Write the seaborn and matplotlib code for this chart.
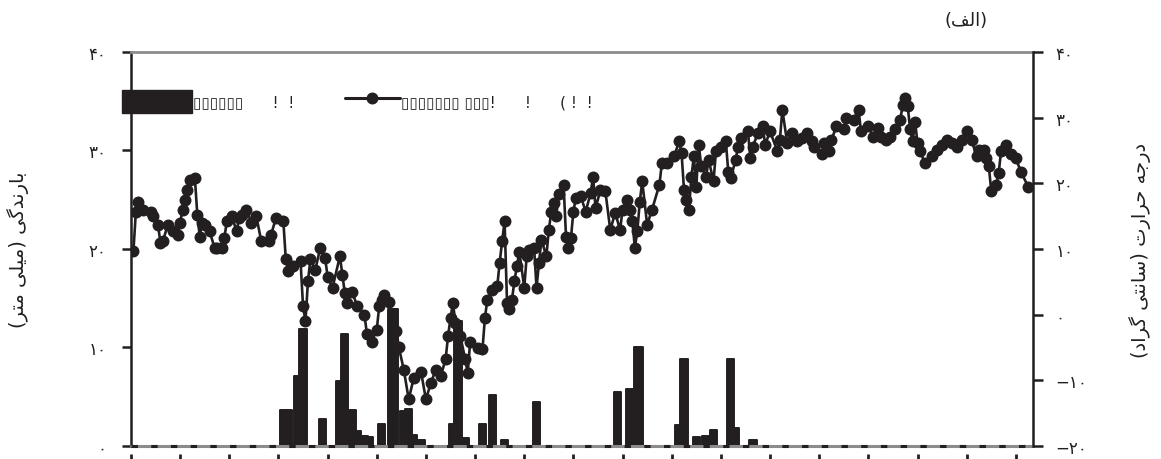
import matplotlib
matplotlib.use("Agg")
import matplotlib.pyplot as plt
import seaborn as sns
import pandas as pd
from matplotlib.patches import Patch, Rectangle
from matplotlib.lines import Line2D
from matplotlib.legend_handler import HandlerPatch

# ---------------- data ----------------
temp_day = [1, 2, 3, 5, 8, 9, 11, 12, 13, 15, 17, 19, 20, 21, 22, 23, 24, 26, 27, 28, 29, 30, 32, 34, 35, 37, 38, 39,
            41, 43, 44, 45, 47, 49, 51, 53, 56, 57, 59, 62, 63, 64, 66, 69, 70, 71, 72, 73, 75, 77, 79, 80, 82, 85,
            86, 87, 88, 90, 92, 95, 96, 98, 100, 101, 102, 103, 105, 108, 109, 111, 113, 115, 118, 120, 122, 124,
            126, 128, 129, 130, 131, 132, 134, 136, 137, 138, 141, 143, 144, 145, 147, 149, 150, 151, 152, 153, 154,
            155, 156, 157, 158, 160, 161, 162, 164, 165, 166, 167, 169, 170, 171, 172, 173, 174, 176, 177, 178, 179,
            180, 181, 183, 185, 187, 188, 189, 191, 193, 195, 197, 199, 200, 202, 203, 204, 205, 206, 207, 208, 210,
            212, 215, 216, 218, 221, 223, 224, 225, 226, 227, 228, 229, 230, 231, 232, 234, 235, 237, 238, 240, 242,
            243, 244, 246, 247, 248, 251, 252, 253, 255, 257, 258, 260, 263, 264, 265, 267, 269, 271, 273, 275, 277,
            278, 281, 282, 284, 285, 287, 290, 291, 294, 296, 297, 300, 302, 304, 305, 307, 309, 311, 313, 314, 315,
            316, 317, 318, 319, 320, 321, 323, 326, 328, 330, 332, 334, 336, 338, 340, 342, 344, 345, 347, 348, 349,
            350, 352, 353, 354, 356, 358, 360, 362, 365]
temp_val = [9.7, 15.7, 17.1, 16.0, 15.7, 15.0, 13.7, 10.9, 11.2, 13.7, 12.7, 12.2, 14.0, 16.0, 17.5, 19.0, 20.5, 20.8,
            15.2, 11.9, 14.0, 13.7, 12.7, 10.2, 10.2, 10.2, 11.7, 14.2, 15.0, 12.7, 14.7, 15.2, 16.0, 14.0, 15.0,
            11.2, 11.2, 12.2, 14.7, 14.2, 8.4, 6.6, 7.4, 8.1, 1.3, -1.0, 5.1, 8.4, 6.8, 10.2, 8.6, 5.8, 4.1, 8.9,
            6.1, 3.3, 1.8, 3.5, 1.3, 0.0, -3.0, -4.1, -2.3, 1.3, 2.3, 3.0, 2.0, -2.5, -5.0, -8.4, -12.9, -9.7, -8.7,
            -12.9, -10.4, -8.4, -9.4, -6.8, -3.3, -0.5, 1.8, -1.3, -3.3, -6.8, -8.9, -4.1, -5.1, -5.3, -0.5, 2.3,
            3.8, 4.3, 7.9, 11.2, 14.2, 1.8, 0.8, 2.3, 5.1, 7.4, 9.6, 4.1, 8.9, 9.9, 10.2, 4.1, 7.9, 11.4, 8.9, 12.9,
            15.7, 17.0, 15.0, 18.3, 19.8, 11.9, 10.2, 11.7, 15.7, 17.8, 18.0, 15.7, 18.5, 21.0, 16.2, 19.0, 18.8,
            12.9, 15.5, 12.9, 16.0, 17.5, 16.0, 14.2, 10.2, 12.7, 17.2, 20.3, 13.7, 16.0, 19.8, 23.1, 23.1, 24.1,
            26.4, 24.6, 19.0, 17.5, 16.0, 21.0, 24.1, 19.5, 25.9, 22.6, 21.0, 23.6, 20.3, 24.9, 25.6, 26.4, 21.8,
            20.8, 23.6, 25.6, 26.9, 27.9, 23.8, 25.6, 27.6, 28.7, 25.9, 27.9, 24.9, 26.6, 31.2, 26.1, 27.6, 26.4,
            26.9, 27.6, 26.4, 25.6, 24.4, 26.1, 24.9, 26.6, 28.7, 28.2, 29.9, 29.7, 31.2, 27.9, 28.7, 27.1, 28.4,
            27.1, 26.6, 27.1, 28.2, 29.7, 32.0, 33.0, 31.7, 28.2, 26.4, 29.4, 26.1, 24.9, 23.1, 24.1, 25.1, 25.9,
            26.6, 26.1, 25.6, 26.6, 27.9, 26.6, 24.1, 25.1, 25.1, 23.8, 22.6, 18.8, 19.8, 21.6, 24.9, 25.9, 24.4,
            23.8, 21.8, 19.5]

rain_day = [62, 64, 68, 70, 78, 85, 87, 90, 92, 95, 97, 102, 106, 107, 111, 113, 115, 118, 131, 133, 136, 143, 147,
            152, 165, 198, 203, 206, 207, 223, 225, 230, 234, 237, 244, 246, 253]
rain_mm = [3.7, 3.7, 7.1, 11.9, 2.7, 6.6, 11.4, 3.7, 1.5, 1.0, 0.9, 2.2, 13.9, 13.9, 3.6, 3.8, 1.1, 0.6, 2.2, 12.7,
           0.8, 2.2, 5.2, 0.6, 4.5, 5.5, 5.8, 10.0, 10.0, 2.1, 8.8, 0.9, 1.0, 1.6, 8.8, 1.8, 0.6]

left_ticks = [0, 10, 20, 30, 40]
left_labels = ["۰", "۱۰", "۲۰", "۳۰", "۴۰"]
right_ticks = [-20, -10, 0, 10, 20, 30, 40]
right_labels = ["−۲۰", "−۱۰", "۰", "۱۰", "۲۰", "۳۰", "۴۰"]
x_ticks = list(range(0, 361, 20))

left_title = "بارندگی (میلی متر)"
right_title = "درجه حرارت (سانتی گراد)"
panel_title = "(الف)"
legend_rain = "▯▯▯▯▯▯      !  !"
legend_temp = "▯▯▯▯▯▯▯ ▯▯▯!      !      ( !  !"

# ---------------- Persian shaping (presentation forms, visual order) ----------------
FORMS = {  # isolated, final, initial, medial
    'ا': ('\uFE8D', '\uFE8E', None, None),
    'ب': ('\uFE8F', '\uFE90', '\uFE91', '\uFE92'),
    'ت': ('\uFE95', '\uFE96', '\uFE97', '\uFE98'),
    'ج': ('\uFE9D', '\uFE9E', '\uFE9F', '\uFEA0'),
    'ح': ('\uFEA1', '\uFEA2', '\uFEA3', '\uFEA4'),
    'د': ('\uFEA9', '\uFEAA', None, None),
    'ر': ('\uFEAD', '\uFEAE', None, None),
    'س': ('\uFEB1', '\uFEB2', '\uFEB3', '\uFEB4'),
    'ف': ('\uFED1', '\uFED2', '\uFED3', '\uFED4'),
    'ل': ('\uFEDD', '\uFEDE', '\uFEDF', '\uFEE0'),
    'م': ('\uFEE1', '\uFEE2', '\uFEE3', '\uFEE4'),
    'ن': ('\uFEE5', '\uFEE6', '\uFEE7', '\uFEE8'),
    'ه': ('\uFEE9', '\uFEEA', '\uFEEB', '\uFEEC'),
    'ی': ('\uFBFC', '\uFBFD', '\uFBFE', '\uFBFF'),
    'گ': ('\uFB92', '\uFB93', '\uFB94', '\uFB95'),
}


def shape(s):
    out = []
    n = len(s)
    for i, c in enumerate(s):
        if c not in FORMS:
            out.append(c)
            continue
        f = FORMS[c]
        prev = s[i - 1] if i > 0 else None
        nxt = s[i + 1] if i < n - 1 else None
        jp = prev in FORMS and FORMS[prev][2] is not None
        jn = f[2] is not None and nxt in FORMS
        if jp and jn:
            g = f[3]
        elif jp:
            g = f[1]
        elif jn:
            g = f[2]
        else:
            g = f[0]
        out.append(g)
    vis = ''.join(reversed(out))
    return vis.translate(str.maketrans('()', ')('))


# ---------------- plotting ----------------
sns.set_style("white")
plt.rcParams['font.family'] = ['DejaVu Sans']
plt.rcParams['lines.scale_dashes'] = False

INK = '#231f20'
GRAY = '#8c8c8c'

fig = plt.figure(figsize=(11.61, 4.6), dpi=100)
ax = fig.add_axes([0.1128, 0.0283, 0.7770, 0.8565])

rain_df = pd.DataFrame({'day': rain_day, 'mm': rain_mm})
sns.barplot(data=rain_df, x='day', y='mm', native_scale=True, width=3.0, color=INK,
            saturation=1, errorbar=None, ax=ax)
for p in ax.patches:
    p.set_edgecolor(INK)
    p.set_linewidth(1.4)
    p.set_joinstyle('round')

# baseline: gray frame line with black dashes
ax.axhline(0, color=GRAY, lw=2.2, zorder=3, clip_on=False)
ax.axhline(0, color=INK, lw=2.2, dashes=(4.6, 9.6), zorder=3.1, clip_on=False)

ax.set_xlim(0, 367)
ax.set_ylim(0, 40)
ax.set_xticks(x_ticks)
ax.set_xticklabels([''] * len(x_ticks))
ax.set_yticks(left_ticks)
ax.set_yticklabels(left_labels, fontsize=12)
ax.set_xlabel('')
ax.set_ylabel('')

ax.spines['bottom'].set_visible(False)
ax.spines['bottom'].set_position(('outward', 5.5))
ax.spines['right'].set_visible(False)
ax.spines['top'].set_color(GRAY)
ax.spines['top'].set_linewidth(2.0)
ax.spines['left'].set_color(INK)
ax.spines['left'].set_linewidth(1.8)
ax.tick_params(axis='x', direction='out', length=4.5, width=2.0, color=INK, bottom=True)
ax.tick_params(axis='y', direction='out', length=6.5, width=1.8, color=INK, pad=11, left=True,
               labelcolor=INK)

ax2 = ax.twinx()
temp_df = pd.DataFrame({'day': temp_day, 'temp': temp_val})
sns.lineplot(data=temp_df, x='day', y='temp', estimator=None, sort=False, marker='o', markersize=8.6,
             markeredgewidth=0, color=INK, linewidth=1.9, legend=False, ax=ax2)
ax2.set_ylim(-20, 40)
ax2.set_xlim(0, 367)
ax2.set_yticks(right_ticks)
ax2.set_yticklabels(right_labels, fontsize=12)
ax2.set_ylabel('')
ax2.set_xlabel('')
for s in ['top', 'bottom', 'left']:
    ax2.spines[s].set_visible(False)
ax2.spines['right'].set_color(INK)
ax2.spines['right'].set_linewidth(1.8)
ax2.tick_params(axis='y', direction='out', length=7, width=1.8, color=INK, pad=9, right=True,
                labelcolor=INK)


def wide_rect(legend, orig_handle, xdescent, ydescent, width, height, fontsize):
    extra = 0.28 * width
    return Rectangle((-xdescent - extra, -ydescent), width + extra, height)


handles = [Patch(facecolor=INK, edgecolor=INK),
           Line2D([], [], color=INK, lw=2.2, marker='o', markersize=8.6, markeredgewidth=0)]
leg = ax2.legend(handles, [legend_rain, legend_temp], loc='upper left', bbox_to_anchor=(0.0067, 0.903),
                 ncol=2, frameon=False, fontsize=11, handlelength=3.6, handleheight=1.9,
                 handletextpad=0.08, columnspacing=3.3, borderpad=0, borderaxespad=0,
                 handler_map={Patch: HandlerPatch(patch_func=wide_rect)})
for t in leg.get_texts():
    t.set_color(INK)

fig.text(0.0155, 0.4565, shape(left_title), rotation=90, ha='center', va='center', fontsize=14, color=INK)
fig.text(0.982, 0.4565, shape(right_title), rotation=90, ha='center', va='center', fontsize=14, color=INK)
fig.text(0.832, 0.955, shape(panel_title), ha='center', va='center', fontsize=13, color=INK)

fig.savefig('out.png', dpi=100)
